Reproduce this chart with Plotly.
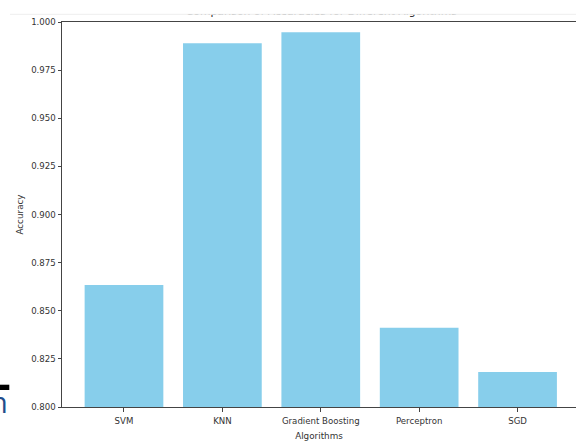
import plotly.graph_objects as go

# ---- data ----
algorithms = ["SVM", "KNN", "Gradient Boosting", "Perceptron", "SGD"]
accuracies = [0.8634, 0.9889, 0.9947, 0.8412, 0.8182]
y_ticks = [0.800, 0.825, 0.850, 0.875, 0.900, 0.925, 0.950, 0.975, 1.000]
title_text = "Comparison of Accuracies for Different Algorithms"

W, H = 576, 441
L, R, T, B = 62, 0, 22, 34          # axes box: left, right, top, bottom (px)
AREA_H = H - B                        # plotting region height with t=0
PW = W - L - R


def px(x):
    return (x - L) / PW


def py(y):
    return (AREA_H - y) / AREA_H


positions = list(range(len(algorithms)))
font = "DejaVu Sans, Arial, sans-serif"

fig = go.Figure()
fig.add_trace(go.Bar(
    x=positions, y=accuracies, width=0.8,
    marker=dict(color="#87CEEB", line=dict(width=0)),
    hoverinfo="x+y", showlegend=False,
))
# title (partially hidden by the cropped top of the screenshot), on a pixel overlay
fig.add_trace(go.Scatter(
    x=[(L + W + 4.6) / 2], y=[12.6],
    xaxis="x2", yaxis="y2",
    mode="text", text=[title_text], textposition="middle center",
    textfont=dict(family=font, size=10.8, color="#222"),
    cliponaxis=False, showlegend=False, hoverinfo="skip",
))

fig.update_layout(
    width=W, height=H,
    margin=dict(l=L, r=R, t=0, b=B, pad=0, autoexpand=False),
    paper_bgcolor="white", plot_bgcolor="rgba(0,0,0,0)",
    font=dict(family=font, color="#333"),
    bargap=0.2,
    xaxis=dict(
        range=[-0.630, 4.594], tickmode="array", tickvals=positions,
        ticktext=algorithms, showgrid=False, zeroline=False, automargin=False,
        showline=True, linecolor="#444", linewidth=1, mirror=True,
        ticks="outside", ticklen=3.5, tickcolor="#444", ticklabelstandoff=2,
        tickfont=dict(size=8.6, color="#333"),
        title=dict(text="Algorithms", font=dict(size=8.8, color="#333"), standoff=9),
    ),
    yaxis=dict(
        domain=[0, (AREA_H - T) / AREA_H],
        range=[0.8, 1.0], tickmode="array", tickvals=y_ticks,
        ticktext=[f"{v:.3f}" for v in y_ticks], showgrid=False, zeroline=False,
        automargin=False,
        showline=True, linecolor="#444", linewidth=1,
        ticks="outside", ticklen=3.5, tickcolor="#444",
        tickfont=dict(size=8.6, color="#333"),
        title=dict(text="Accuracy", font=dict(size=8.8, color="#333"), standoff=6),
    ),
    xaxis2=dict(domain=[0, 1], range=[L, W], visible=False, anchor="y2",
                fixedrange=True),
    yaxis2=dict(domain=[0, 1], range=[AREA_H, 0], visible=False, anchor="x2",
                fixedrange=True),
    shapes=[
        # white cover above the cropped title
        dict(type="rect", xref="paper", yref="paper", layer="above",
             x0=px(-5), x1=px(W + 5), y0=py(14.3), y1=py(-5),
             fillcolor="white", line=dict(width=0)),
        dict(type="line", xref="paper", yref="paper", layer="above",
             x0=px(10), x1=px(W), y0=py(14.3), y1=py(14.3),
             line=dict(color="#eeeeee", width=1)),
        # black bar fragment at bottom-left
        dict(type="rect", xref="paper", yref="paper", layer="above",
             x0=px(-2), x1=px(9.3), y0=py(390), y1=py(384.7),
             fillcolor="black", line=dict(width=0)),
    ],
    annotations=[
        dict(text="n", xref="paper", yref="paper", x=px(10), y=py(423),
             xanchor="right", yanchor="bottom", showarrow=False,
             font=dict(family="Open Sans, sans-serif", size=29, color="#1f4e8c")),
    ],
)

fig.write_html(
    "out.html",
    config={"displayModeBar": False},
    post_script="document.body.style.margin='0';document.body.style.overflow='hidden';",
)
